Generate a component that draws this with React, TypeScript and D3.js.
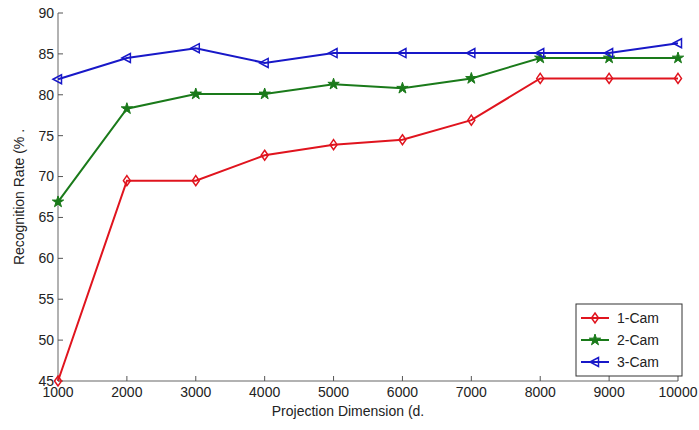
import React from "react";
import * as d3 from "d3";

const dims = [1000, 2000, 3000, 4000, 5000, 6000, 7000, 8000, 9000, 10000];
const cam1 = [45, 69.5, 69.5, 72.6, 73.9, 74.5, 76.9, 82.0, 82.0, 82.0];
const cam2 = [66.9, 78.3, 80.1, 80.1, 81.3, 80.8, 82.0, 84.5, 84.5, 84.5];
const cam3 = [81.9, 84.5, 85.7, 83.9, 85.1, 85.1, 85.1, 85.1, 85.1, 86.3];
const yTicks = [45, 50, 55, 60, 65, 70, 75, 80, 85, 90];
const seriesNames = ["1-Cam", "2-Cam", "3-Cam"];
const seriesColors = ["#e0141e", "#1a7a1a", "#1818c8"];

const W = 699, H = 430;
const m = { left: 58, right: 21, top: 13, bottom: 49 };

function Marker({ type, x, y, color }: { type: number; x: number; y: number; color: string }) {
  if (type === 0) {
    const p = `M${x},${y - 5}L${x + 3.5},${y}L${x},${y + 5}L${x - 3.5},${y}Z`;
    return <path d={p} fill="none" stroke={color} strokeWidth={1.5} />;
  }
  if (type === 1) {
    const star = d3.symbol(d3.symbolStar, 40)();
    return <path d={star as string} transform={`translate(${x},${y})`} fill={color} stroke={color} strokeWidth={1} />;
  }
  const p = `M${x - 5},${y}L${x + 3.5},${y - 4.5}L${x + 3.5},${y + 4.5}Z`;
  return <path d={p} fill="none" stroke={color} strokeWidth={1.5} />;
}

export default function App() {
  const x = d3.scaleLinear().domain([1000, 10000]).range([m.left, W - m.right]);
  const y = d3.scaleLinear().domain([45, 90]).range([H - m.bottom, m.top]);
  const data = [cam1, cam2, cam3];
  const line = d3.line<number>().x((_, i) => x(dims[i])).y((d) => y(d));
  const font = "'Liberation Sans', Arial, sans-serif";
  const axisColor = "#999";
  const lx = 576, ly = 304, lw = 106, lh = 72;
  return (
    <svg width={W} height={H} style={{ position: "absolute", left: 0, top: 0, background: "#fff" }} fontFamily={font}>
      {/* axes */}
      <line x1={x(1000)} x2={x(1000)} y1={y(45)} y2={y(90)} stroke={axisColor} strokeWidth={1.5} />
      <line x1={x(1000)} x2={x(10000)} y1={y(45)} y2={y(45)} stroke={axisColor} strokeWidth={1.5} />
      {yTicks.map((t) => (
        <g key={t}>
          <line x1={x(1000)} x2={x(1000) + 5} y1={y(t)} y2={y(t)} stroke="#555" strokeWidth={1} />
          <text x={x(1000) - 4} y={y(t)} dy="0.35em" textAnchor="end" fontSize={14} fill="#222">{t}</text>
        </g>
      ))}
      {dims.map((t) => (
        <g key={t}>
          <line x1={x(t)} x2={x(t)} y1={y(45)} y2={y(45) - 5} stroke="#555" strokeWidth={1} />
          <text x={x(t)} y={y(45) + 16} textAnchor="middle" fontSize={14} fill="#222">{t}</text>
        </g>
      ))}
      <text x={348} y={416} textAnchor="middle" fontSize={14} fill="#222">Projection Dimension (d.</text>
      <text transform={`translate(24,${(y(45) + y(90)) / 2}) rotate(-90)`} textAnchor="middle" fontSize={14} fill="#222">Recognition Rate (% .</text>
      {/* series */}
      {data.map((s, k) => (
        <g key={k}>
          <path d={line(s) as string} fill="none" stroke={seriesColors[k]} strokeWidth={2} />
          {s.map((v, i) => (
            <Marker key={i} type={k} x={x(dims[i])} y={y(v)} color={seriesColors[k]} />
          ))}
        </g>
      ))}
      {/* legend */}
      <rect x={lx} y={ly} width={lw} height={lh} fill="#fff" stroke="#333" strokeWidth={1} />
      {seriesNames.map((n, k) => {
        const yy = ly + 14 + k * 22;
        return (
          <g key={n}>
            <line x1={lx + 5} x2={lx + 33} y1={yy} y2={yy} stroke={seriesColors[k]} strokeWidth={2} />
            <Marker type={k} x={lx + 19} y={yy} color={seriesColors[k]} />
            <text x={lx + 41} y={yy} dy="0.35em" fontSize={14} fill="#222">{n}</text>
          </g>
        );
      })}
    </svg>
  );
}
